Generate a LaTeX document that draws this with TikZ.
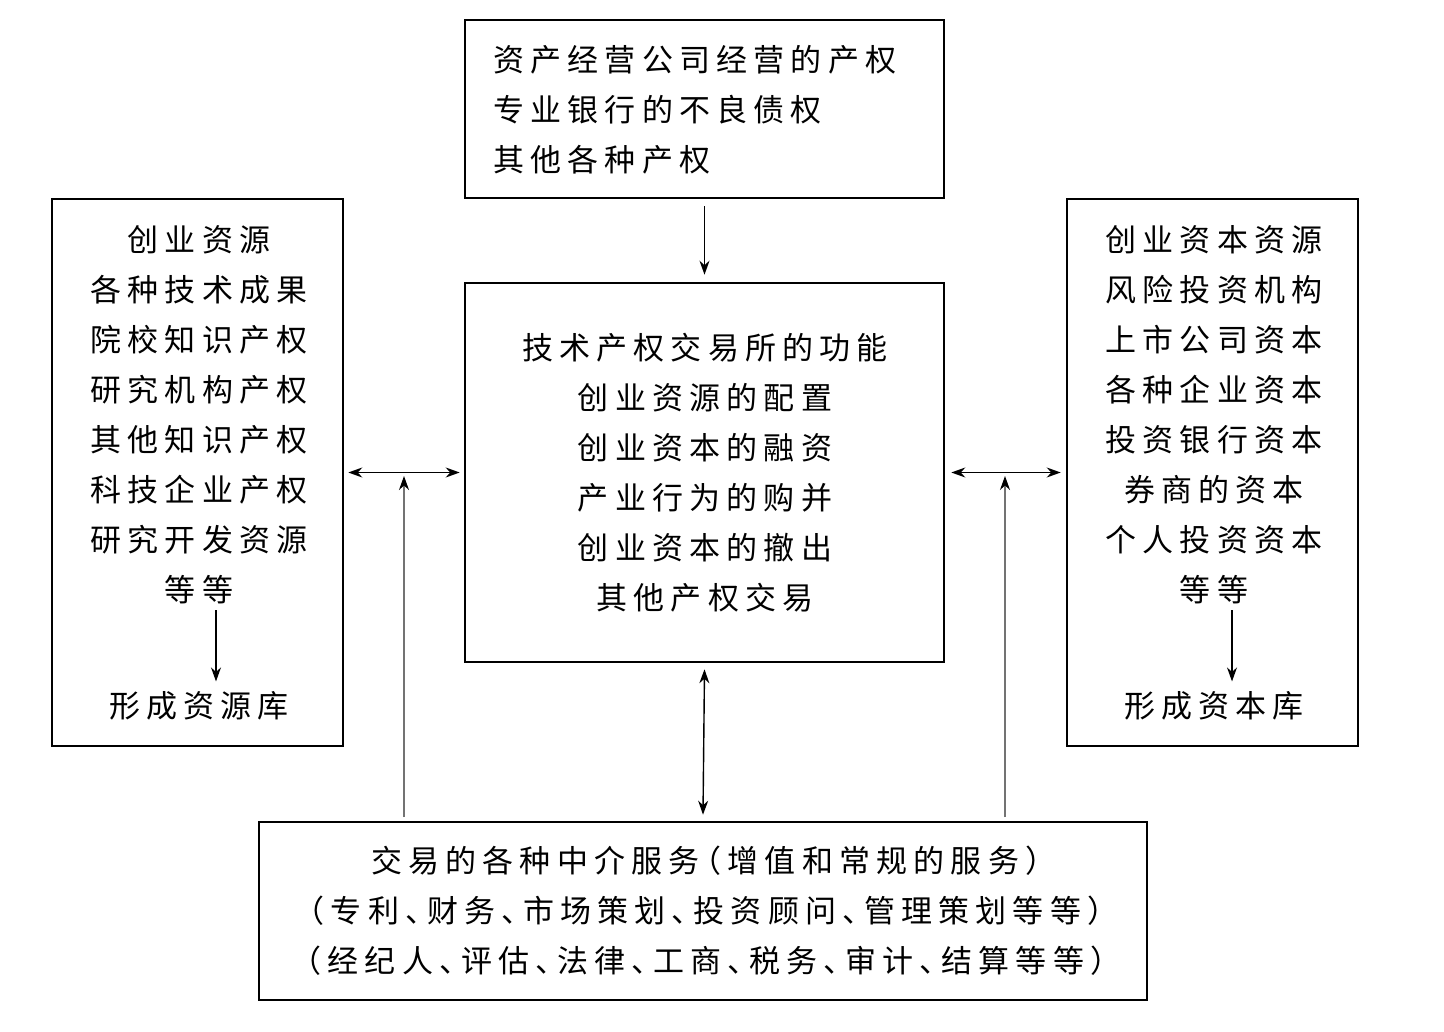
\documentclass[tikz,border=0pt]{standalone}
\usepackage{fontspec}
\setmainfont{Noto Sans CJK SC}[LetterSpace=20, RawFeature=+halt]
\usetikzlibrary{arrows.meta}
\tikzset{
  box/.style={draw, line width=2.6pt, inner sep=0pt},
  txt/.style={inner sep=0pt, font=\fontsize{31}{50}\selectfont},
  arr/.style={line width=1.4pt, -{Stealth[length=14pt,width=10pt]}},
  darr/.style={line width=1.4pt, {Stealth[length=14pt,width=10pt]}-{Stealth[length=14pt,width=10pt]}},
  garr/.style={line width=1.4pt, draw=black!55, -{Stealth[length=14pt,width=10pt,black]}}
}
\begin{document}
\begin{tikzpicture}[x=1pt,y=-1pt]
\useasboundingbox[fill=white] (0,0) rectangle (1444,1032);
% boxes
\node[box, minimum width=479pt, minimum height=178pt] (topbox) at (704.5,109) {};
\node[box, minimum width=479pt, minimum height=379pt] (cbox) at (704.5,472.5) {};
\node[box, minimum width=291pt, minimum height=547pt] (lbox) at (197.5,472.5) {};
\node[box, minimum width=291pt, minimum height=547pt] (rbox) at (1212.5,472.5) {};
\node[box, minimum width=888pt, minimum height=178pt] (bbox) at (703,911) {};
% texts
\node[txt, align=left, anchor=west] (ttext) at (493,110) {资产经营公司经营的产权\\专业银行的不良债权\\其他各种产权};
\node[txt, align=center] (ctext) at (705,473) {技术产权交易所的功能\\创业资源的配置\\创业资本的融资\\产业行为的购并\\创业资本的撤出\\其他产权交易};
\node[txt, align=center] (ltext) at (199,415) {创业资源\\各种技术成果\\院校知识产权\\研究机构产权\\其他知识产权\\科技企业产权\\研究开发资源\\等等};
\node[txt] (llib) at (199,706) {形成资源库};
\node[txt, align=center] (rtext) at (1214,415) {创业资本资源\\风险投资机构\\上市公司资本\\各种企业资本\\投资银行资本\\券商的资本\\个人投资资本\\等等};
\node[txt] (rlib) at (1214,706) {形成资本库};
\node[txt, align=center] (btext) at (706,911) {交易的各种中介服务（增值和常规的服务）\\（专利、财务、市场策划、投资顾问、管理策划等等）\\（经纪人、评估、法律、工商、税务、审计、结算等等）};
% coordinates for gray arrows
\coordinate (g1b) at (404,817);
\coordinate (g1t) at (404,476);
\coordinate (g2b) at (1005,817);
\coordinate (g2t) at (1005,476);
% connectors
\draw[arr] ([yshift=-7pt]topbox.south) -- ([yshift=7pt]cbox.north);
\draw[darr] ([xshift=4pt]lbox.east) -- ([xshift=-4pt]cbox.west);
\draw[darr] ([xshift=6pt]cbox.east) -- ([xshift=-5pt]rbox.west);
\draw[darr] ([yshift=-6pt]cbox.south) -- ([yshift=6pt]bbox.north);
\draw[garr] (g1b) -- (g1t);
\draw[garr] (g2b) -- (g2t);
\draw[arr] ([xshift=17pt,yshift=-6pt]ltext.south) -- ([xshift=17pt,yshift=10pt]llib.north);
\draw[arr] ([xshift=18pt,yshift=-6pt]rtext.south) -- ([xshift=18pt,yshift=10pt]rlib.north);
\end{tikzpicture}
\end{document}
